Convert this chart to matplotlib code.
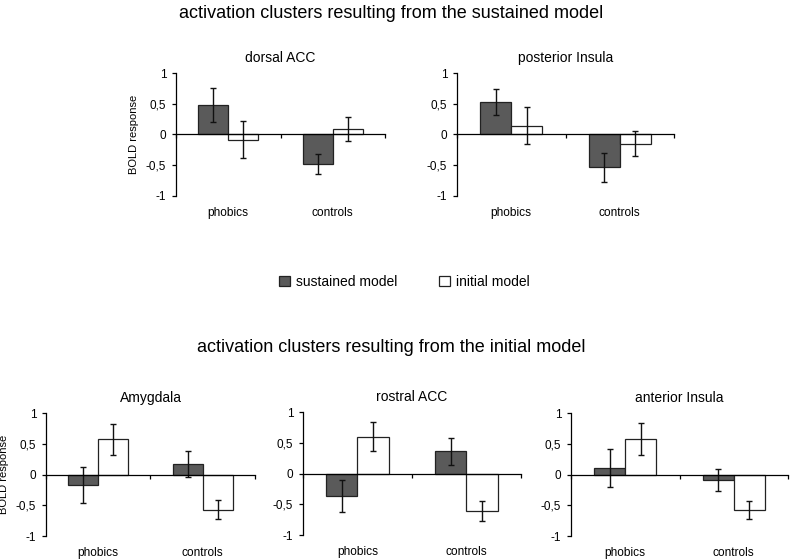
import numpy as np
import matplotlib.pyplot as plt
from matplotlib.patches import Patch

plt.rcParams['font.family'] = ['Liberation Sans', 'DejaVu Sans']

groups = ["phobics", "controls"]
yticks = [-1, -0.5, 0, 0.5, 1]
yticklabels = ["-1", "-0,5", "0", "0,5", "1"]

panels = ["dorsal ACC", "posterior Insula", "Amygdala", "rostral ACC", "anterior Insula"]
# sustained / initial means and error half widths, per panel, [phobics, controls]
sus_mean = [[0.475, -0.48], [0.53, -0.535], [-0.17, 0.17], [-0.365, 0.36], [0.10, -0.09]]
sus_err = [[0.275, 0.17], [0.21, 0.235], [0.285, 0.21], [0.26, 0.22], [0.31, 0.185]]
ini_mean = [[-0.087, 0.087], [0.14, -0.15], [0.57, -0.57], [0.60, -0.61], [0.57, -0.57]]
ini_err = [[0.30, 0.20], [0.30, 0.20], [0.25, 0.16], [0.235, 0.16], [0.26, 0.145]]

dark = "#5a5a5a"

fig = plt.figure(figsize=(7.9, 5.59), dpi=100)

# axes rectangles in figure fraction
rects = [
    [0.2228, 0.6494, 0.2646, 0.2200],
    [0.5785, 0.6494, 0.2747, 0.2200],
    [0.0582, 0.0411, 0.2646, 0.2200],
    [0.3835, 0.0429, 0.2760, 0.2200],
    [0.7228, 0.0411, 0.2747, 0.2200],
]

bw = 0.286
x = np.arange(len(groups)) + 0.5

for i, name in enumerate(panels):
    ax = fig.add_axes(rects[i])
    ax.bar(x - bw, sus_mean[i], bw, align='edge', color=dark, edgecolor="#222222", lw=0.9)
    ax.bar(x, ini_mean[i], bw, align='edge', color="white", edgecolor="#222222", lw=0.9)
    ax.errorbar(x - bw / 2, sus_mean[i], yerr=sus_err[i], fmt='none', ecolor="#111111",
                elinewidth=1.0, capsize=2.5, capthick=1.0)
    ax.errorbar(x + bw / 2, ini_mean[i], yerr=ini_err[i], fmt='none', ecolor="#111111",
                elinewidth=1.0, capsize=2.5, capthick=1.0)

    ax.set_xlim(0, 2)
    ax.set_ylim(-1, 1)
    for s in ["top", "right"]:
        ax.spines[s].set_visible(False)
    ax.spines["bottom"].set_position(("data", 0))
    ax.spines["bottom"].set_linewidth(0.9)
    ax.spines["left"].set_linewidth(0.9)
    ax.set_xticks([0, 1, 2])
    ax.set_xticklabels([])
    ax.tick_params(axis='x', direction='out', length=3, width=0.9)
    ax.set_yticks(yticks)
    ax.set_yticklabels(yticklabels, fontsize=8.5)
    ax.tick_params(axis='y', direction='out', length=3, width=0.9, pad=4)
    for xi, g in zip(x, groups):
        ax.text(xi, -1.27, g, ha='center', va='center', fontsize=8.6, clip_on=False)
    ax.set_title(name, fontsize=10, pad=8)
    if i in (0, 2):
        ax.set_ylabel("BOLD response", fontsize=8, labelpad=5)

fig.text(0.495, 0.976, "activation clusters resulting from the sustained model",
         ha='center', va='center', fontsize=13)
fig.text(0.495, 0.379, "activation clusters resulting from the initial model",
         ha='center', va='center', fontsize=13)

handles = [Patch(facecolor=dark, edgecolor="#222222", lw=0.9, label="sustained model"),
           Patch(facecolor="white", edgecolor="#222222", lw=0.9, label="initial model")]
fig.legend(handles=handles, loc='center', bbox_to_anchor=(0.512, 0.496), ncol=2,
           frameon=False, fontsize=10, handlelength=0.75, handleheight=0.75,
           handletextpad=0.45, columnspacing=3.0)

fig.savefig("out.png", dpi=100)
